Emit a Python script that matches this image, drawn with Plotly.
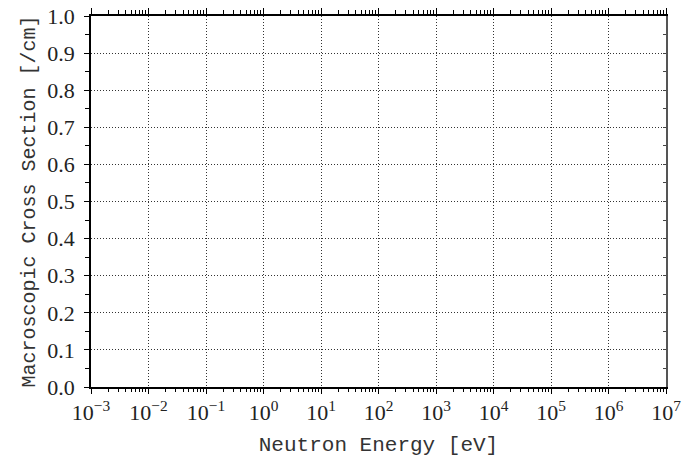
import plotly.graph_objects as go

# Axis definitions (empty chart)
x_range_exp = [-3, 7]
y_range = [0.0, 1.0]
x_major_exps = [-3, -2, -1, 0, 1, 2, 3, 4, 5, 6, 7]
x_tick_labels = ["10<sup>−3</sup>", "10<sup>−2</sup>", "10<sup>−1</sup>", "10<sup>0</sup>",
                 "10<sup>1</sup>", "10<sup>2</sup>", "10<sup>3</sup>", "10<sup>4</sup>",
                 "10<sup>5</sup>", "10<sup>6</sup>", "10<sup>7</sup>"]
y_tick_vals = [0.0, 0.1, 0.2, 0.3, 0.4, 0.5, 0.6, 0.7, 0.8, 0.9, 1.0]
y_tick_labels = ["0.0", "0.1", "0.2", "0.3", "0.4", "0.5", "0.6", "0.7", "0.8", "0.9", "1.0"]
x_title = "Neutron Energy [eV]"
y_title = "Macroscopic Cross Section [/cm]"

x_major_vals = [10.0 ** e for e in x_major_exps]
x_minor_vals = [m * 10.0 ** e for e in x_major_exps[:-1] for m in range(2, 10)]

tick_font = dict(family="Liberation Serif", size=22, color="#222")
x_title_font = dict(family="Liberation Mono", size=21, color="#333")
y_title_font = dict(family="Liberation Mono", size=20, color="#333")
grid_dash = "1px,2px"

fig = go.Figure()
fig.add_trace(go.Scatter(x=[], y=[], mode="lines", showlegend=False))
fig.add_trace(go.Scatter(x=[], y=[], mode="lines", xaxis="x2", yaxis="y2", showlegend=False))

fig.update_layout(
    width=685, height=460,
    margin=dict(l=91, r=19, t=16, b=73),
    paper_bgcolor="white", plot_bgcolor="white",
    showlegend=False,
    xaxis=dict(
        type="log", range=x_range_exp, automargin=False,
        tickmode="array", tickvals=x_major_vals, ticktext=x_tick_labels,
        ticks="outside", ticklen=5, tickwidth=1.2, tickcolor="black",
        showline=True, linecolor="black", linewidth=1.5,
        showgrid=True, gridcolor="#333", griddash=grid_dash, gridwidth=1,
        zeroline=False, tickfont=tick_font, ticklabelstandoff=0,
        minor=dict(tickmode="array", tickvals=x_minor_vals, ticks="outside",
                   ticklen=3, tickwidth=1, tickcolor="black", showgrid=False),
        title=dict(text=x_title, font=x_title_font, standoff=12),
    ),
    xaxis2=dict(
        type="log", range=x_range_exp, overlaying="x", side="top", anchor="y",
        automargin=False,
        tickmode="array", tickvals=x_major_vals,
        ticks="outside", ticklen=6, tickwidth=1.2, tickcolor="black",
        showline=True, linecolor="black", linewidth=1.5,
        showgrid=False, zeroline=False, showticklabels=False,
        minor=dict(tickmode="array", tickvals=x_minor_vals, ticks="outside",
                   ticklen=4, tickwidth=1, tickcolor="black", showgrid=False),
    ),
    yaxis=dict(
        range=y_range, automargin=False,
        tickmode="array", tickvals=y_tick_vals, ticktext=y_tick_labels,
        ticks="outside", ticklen=5, tickwidth=1.2, tickcolor="black",
        showline=True, linecolor="black", linewidth=1.5,
        showgrid=True, gridcolor="#333", griddash=grid_dash, gridwidth=1,
        zeroline=False, tickfont=tick_font, ticklabelstandoff=5,
        minor=dict(dtick=0.05, ticks="outside", ticklen=4, tickwidth=1,
                   tickcolor="black", showgrid=False),
        title=dict(text=y_title, font=y_title_font, standoff=6),
    ),
    yaxis2=dict(
        range=y_range, overlaying="y", side="right", anchor="x", automargin=False,
        tickmode="array", tickvals=y_tick_vals,
        ticks="inside", ticklen=3, tickwidth=1, tickcolor="#444",
        showline=True, linecolor="#555", linewidth=2,
        showgrid=False, zeroline=False, showticklabels=False,
        minor=dict(dtick=0.05, ticks="inside", ticklen=3, tickwidth=1,
                   tickcolor="#444", showgrid=False),
    ),
)

fig.write_html(
    "out.html",
    config={"displayModeBar": False},
    post_script="document.body.style.margin='0';document.body.style.overflow='hidden';",
)
